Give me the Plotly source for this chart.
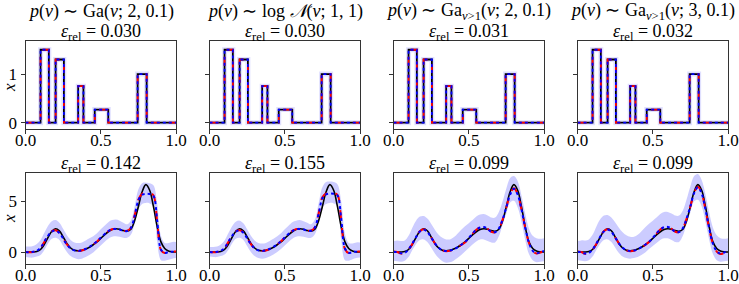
import plotly.graph_objects as go

# ---------------- data ----------------
col_titles = ["<i>p</i>(<i>ν</i>) ∼ Ga(<i>ν</i>; 2, 0.1)",
              "<i>p</i>(<i>ν</i>) ∼ log <i>𝒩</i>(<i>ν</i>; 1, 1)",
              "<i>p</i>(<i>ν</i>) ∼ Ga<sub><i>ν</i>>1</sub>(<i>ν</i>; 2, 0.1)",
              "<i>p</i>(<i>ν</i>) ∼ Ga<sub><i>ν</i>>1</sub>(<i>ν</i>; 3, 0.1)"]
err_top = ["0.030", "0.030", "0.031", "0.032"]
err_bot = ["0.142", "0.155", "0.099", "0.099"]

# top row: piecewise-constant signal (step edges and levels)
step_edges = [0.0, 0.1, 0.155, 0.2, 0.255, 0.35, 0.385, 0.46, 0.55, 0.745, 0.805, 1.0]
step_levels = [0.0, 1.5, 0.0, 1.3, 0.0, 0.75, 0.0, 0.27, 0.0, 1.0, 0.0, 0.0]

# bottom row: smooth signal sampled on a grid
x_grid = [0.000, 0.025, 0.050, 0.075, 0.100, 0.125, 0.150, 0.175, 0.200, 0.225,
          0.250, 0.275, 0.300, 0.325, 0.350, 0.375, 0.400, 0.425, 0.450, 0.475,
          0.500, 0.525, 0.550, 0.575, 0.600, 0.625, 0.650, 0.675, 0.700, 0.725,
          0.750, 0.775, 0.800, 0.825, 0.850, 0.875, 0.900, 0.925, 0.950, 0.975, 1.000]

truth_smooth = [0.00, 0.00, 0.00, 0.05, 0.25, 0.75, 1.45, 2.05, 2.30, 2.10,
                1.50, 0.85, 0.40, 0.18, 0.13, 0.18, 0.30, 0.48, 0.72, 1.00,
                1.35, 1.70, 2.00, 2.22, 2.30, 2.25, 2.12, 2.05, 2.25, 3.10,
                4.50, 5.95, 6.65, 6.10, 4.50, 2.50, 1.00, 0.35, 0.10, 0.02, 0.00]

red_1 = [0.00, -0.02, 0.00, 0.10, 0.40, 1.00, 1.65, 2.05, 2.15, 1.90,
         1.35, 0.75, 0.35, 0.15, 0.10, 0.15, 0.30, 0.50, 0.75, 1.05,
         1.40, 1.75, 2.05, 2.25, 2.30, 2.25, 2.12, 2.10, 2.40, 3.60,
         5.20, 5.75, 5.85, 5.80, 5.60, 3.00, 0.20, -0.10, 0.00, 0.05, 0.05]
blue_1 = [0.00, -0.03, 0.02, 0.12, 0.42, 1.02, 1.62, 2.02, 2.12, 1.88,
          1.33, 0.74, 0.36, 0.16, 0.11, 0.16, 0.31, 0.51, 0.76, 1.06,
          1.41, 1.76, 2.06, 2.24, 2.28, 2.23, 2.10, 2.08, 2.38, 3.55,
          5.10, 5.65, 5.75, 5.72, 5.55, 3.10, 0.25, -0.08, 0.00, 0.04, 0.05]
up_1 = [0.55, 0.55, 0.60, 0.80, 1.20, 1.90, 2.60, 3.05, 3.15, 2.90,
        2.30, 1.65, 1.20, 0.95, 0.90, 0.95, 1.15, 1.35, 1.55, 1.85,
        2.25, 2.60, 2.95, 3.15, 3.20, 3.10, 2.90, 2.75, 3.10, 4.50,
        6.20, 6.80, 6.85, 6.80, 6.60, 4.80, 1.60, 0.90, 0.90, 1.00, 1.00]
lo_1 = [-0.50, -0.55, -0.55, -0.45, -0.30, 0.20, 0.85, 1.30, 1.40, 1.20,
        0.60, 0.00, -0.40, -0.60, -0.70, -0.65, -0.50, -0.30, -0.05, 0.30,
        0.65, 1.00, 1.30, 1.50, 1.55, 1.50, 1.40, 1.40, 1.70, 2.80,
        4.20, 4.75, 4.85, 4.80, 4.50, 1.00, -0.80, -0.85, -0.75, -0.65, -0.60]

red_2 = [0.00, -0.02, 0.00, 0.10, 0.38, 0.98, 1.62, 2.05, 2.15, 1.92,
         1.38, 0.78, 0.36, 0.15, 0.10, 0.15, 0.30, 0.50, 0.76, 1.06,
         1.42, 1.78, 2.08, 2.26, 2.30, 2.25, 2.14, 2.12, 2.45, 3.80,
         5.40, 5.80, 5.85, 5.82, 5.65, 3.20, 0.30, -0.10, 0.00, 0.05, 0.05]
blue_2 = [0.00, -0.03, 0.02, 0.12, 0.40, 1.00, 1.60, 2.02, 2.12, 1.90,
          1.36, 0.76, 0.37, 0.16, 0.11, 0.16, 0.31, 0.51, 0.77, 1.07,
          1.43, 1.79, 2.07, 2.25, 2.28, 2.23, 2.12, 2.10, 2.42, 3.75,
          5.30, 5.70, 5.78, 5.75, 5.60, 3.30, 0.35, -0.08, 0.00, 0.04, 0.05]
up_2 = [0.50, 0.50, 0.55, 0.75, 1.15, 1.85, 2.55, 3.00, 3.10, 2.85,
        2.25, 1.60, 1.15, 0.90, 0.85, 0.90, 1.10, 1.30, 1.55, 1.85,
        2.25, 2.60, 2.95, 3.10, 3.15, 3.05, 2.90, 2.75, 3.20, 4.80,
        6.40, 6.90, 6.95, 6.90, 6.70, 5.00, 1.80, 0.90, 0.85, 0.95, 0.95]
lo_2 = [-0.45, -0.50, -0.50, -0.40, -0.25, 0.20, 0.85, 1.30, 1.40, 1.20,
        0.60, 0.00, -0.40, -0.60, -0.65, -0.60, -0.45, -0.25, 0.00, 0.30,
        0.65, 1.00, 1.30, 1.50, 1.55, 1.50, 1.40, 1.40, 1.75, 2.90,
        4.40, 4.75, 4.85, 4.80, 4.55, 1.20, -0.80, -0.85, -0.70, -0.60, -0.55]

red_3 = [0.05, 0.00, -0.15, -0.10, 0.25, 0.80, 1.50, 2.05, 2.25, 2.00,
         1.45, 0.85, 0.40, 0.15, 0.08, 0.12, 0.25, 0.45, 0.70, 0.95,
         1.35, 1.80, 2.20, 2.45, 2.50, 2.30, 2.00, 1.95, 2.30, 3.20,
         4.40, 5.70, 6.30, 5.70, 4.20, 2.40, 0.90, 0.10, -0.15, -0.05, 0.10]
blue_3 = [0.03, -0.02, -0.12, -0.08, 0.27, 0.82, 1.48, 2.02, 2.22, 1.98,
          1.44, 0.86, 0.42, 0.17, 0.10, 0.14, 0.27, 0.47, 0.72, 0.98,
          1.38, 1.82, 2.20, 2.42, 2.47, 2.28, 2.00, 1.96, 2.32, 3.22,
          4.42, 5.68, 6.25, 5.68, 4.22, 2.42, 0.92, 0.12, -0.12, -0.02, 0.12]
up_3 = [1.10, 1.15, 1.10, 1.15, 1.60, 2.40, 3.10, 3.50, 3.55, 3.30,
        2.80, 2.20, 1.70, 1.40, 1.25, 1.25, 1.45, 1.80, 2.20, 2.55,
        2.85, 3.15, 3.50, 3.70, 3.75, 3.60, 3.40, 3.40, 3.95, 5.00,
        6.30, 7.30, 7.50, 7.00, 5.60, 3.80, 2.30, 1.60, 1.35, 1.30, 1.35]
lo_3 = [-0.85, -0.90, -0.95, -0.85, -0.50, 0.20, 0.80, 1.20, 1.25, 1.00,
        0.45, -0.15, -0.60, -0.90, -1.05, -1.00, -0.85, -0.60, -0.30, 0.05,
        0.40, 0.75, 1.05, 1.25, 1.25, 1.10, 0.95, 0.95, 1.55, 2.70,
        3.80, 4.90, 5.05, 4.40, 3.00, 1.20, -0.20, -0.80, -1.00, -0.95, -0.90]

red_4 = [0.05, 0.00, -0.18, -0.12, 0.22, 0.80, 1.50, 2.05, 2.25, 2.00,
         1.45, 0.85, 0.40, 0.16, 0.08, 0.12, 0.26, 0.46, 0.70, 0.98,
         1.38, 1.82, 2.22, 2.48, 2.52, 2.30, 2.00, 1.98, 2.35, 3.30,
         4.50, 5.85, 6.45, 5.80, 4.20, 2.30, 0.80, 0.05, -0.20, -0.08, 0.10]
blue_4 = [0.03, -0.02, -0.15, -0.10, 0.25, 0.82, 1.48, 2.02, 2.22, 1.98,
          1.44, 0.86, 0.42, 0.18, 0.10, 0.14, 0.28, 0.48, 0.72, 1.00,
          1.40, 1.84, 2.22, 2.45, 2.48, 2.28, 2.00, 1.98, 2.36, 3.32,
          4.52, 5.82, 6.40, 5.78, 4.22, 2.32, 0.82, 0.08, -0.16, -0.05, 0.12]
up_4 = [1.10, 1.15, 1.15, 1.25, 1.70, 2.50, 3.20, 3.60, 3.65, 3.40,
        2.95, 2.40, 1.95, 1.65, 1.50, 1.50, 1.70, 2.05, 2.45, 2.80,
        3.10, 3.40, 3.75, 3.95, 3.95, 3.80, 3.60, 3.60, 4.10, 5.20,
        6.50, 7.50, 7.70, 7.10, 5.70, 3.90, 2.40, 1.65, 1.35, 1.30, 1.35]
lo_4 = [-0.80, -0.85, -0.90, -0.80, -0.45, 0.20, 0.80, 1.20, 1.25, 1.00,
        0.45, -0.10, -0.45, -0.60, -0.65, -0.60, -0.50, -0.30, -0.05, 0.30,
        0.60, 0.90, 1.20, 1.35, 1.35, 1.20, 1.00, 1.00, 1.60, 2.80,
        3.90, 5.00, 5.15, 4.50, 3.00, 1.20, -0.20, -0.80, -0.95, -0.90, -0.85]

red_bot = [red_1, red_2, red_3, red_4]
blue_bot = [blue_1, blue_2, blue_3, blue_4]
up_bot = [up_1, up_2, up_3, up_4]
lo_bot = [lo_1, lo_2, lo_3, lo_4]

x_ticks = [0.0, 0.5, 1.0]
x_ticklabels = ["0.0", "0.5", "1.0"]
y_ticks_top = [0, 1]
y_ticks_bot = [0, 5]

# ---------------- layout ----------------
W, H = 739, 284
col_left = [25.5, 209.5, 393.5, 577.5]
col_w = 150.5
row_px = [(41, 129), (173, 264)]
ylabel_px = [88, 219]
y_ranges = [[-0.13, 1.68], [-1.18, 7.8]]

FONT = "Liberation Serif"
fig = go.Figure()

band_fill = "rgba(0,0,255,0.2)"
halo = "rgba(0,0,255,0.12)"
axis_line = "#333333"

def axname(r, c):
    idx = r * 4 + c + 1
    return ("x" if idx == 1 else f"x{idx}"), ("y" if idx == 1 else f"y{idx}")

for r in range(2):
    for c in range(4):
        xa, ya = axname(r, c)
        if r == 0:
            fig.add_trace(go.Scatter(x=step_edges, y=step_levels, mode="lines",
                                     line=dict(color=halo, width=5, shape="hv"),
                                     xaxis=xa, yaxis=ya, showlegend=False, hoverinfo="skip"))
            fig.add_trace(go.Scatter(x=step_edges, y=step_levels, mode="lines",
                                     line=dict(color="black", width=1.8, shape="hv"),
                                     xaxis=xa, yaxis=ya, showlegend=False))
            fig.add_trace(go.Scatter(x=step_edges, y=step_levels, mode="lines",
                                     line=dict(color="red", width=1.8, dash="dash", shape="hv"),
                                     xaxis=xa, yaxis=ya, showlegend=False))
            fig.add_trace(go.Scatter(x=step_edges, y=step_levels, mode="lines",
                                     line=dict(color="blue", width=1.8, dash="dot", shape="hv"),
                                     xaxis=xa, yaxis=ya, showlegend=False))
        else:
            fig.add_trace(go.Scatter(x=x_grid, y=lo_bot[c], mode="lines",
                                     line=dict(width=0, shape="spline"),
                                     xaxis=xa, yaxis=ya, showlegend=False, hoverinfo="skip"))
            fig.add_trace(go.Scatter(x=x_grid, y=up_bot[c], mode="lines", fill="tonexty",
                                     fillcolor=band_fill, line=dict(width=0, shape="spline"),
                                     xaxis=xa, yaxis=ya, showlegend=False, hoverinfo="skip"))
            fig.add_trace(go.Scatter(x=x_grid, y=truth_smooth, mode="lines",
                                     line=dict(color="black", width=1.6, shape="spline"),
                                     xaxis=xa, yaxis=ya, showlegend=False))
            fig.add_trace(go.Scatter(x=x_grid, y=red_bot[c], mode="lines",
                                     line=dict(color="red", width=2, dash="dash", shape="spline"),
                                     xaxis=xa, yaxis=ya, showlegend=False))
            fig.add_trace(go.Scatter(x=x_grid, y=blue_bot[c], mode="lines",
                                     line=dict(color="blue", width=2, dash="dot", shape="spline"),
                                     xaxis=xa, yaxis=ya, showlegend=False))

        x0 = col_left[c] / W
        x1 = (col_left[c] + col_w) / W
        y0 = 1 - row_px[r][1] / H
        y1 = 1 - row_px[r][0] / H
        common = dict(showline=True, mirror=True, linecolor=axis_line, linewidth=1,
                      ticks="outside", ticklen=4, tickwidth=1, tickcolor=axis_line,
                      showgrid=False, zeroline=False, automargin=False,
                      tickfont=dict(family=FONT, size=17, color="black"))
        xkey = "xaxis" if xa == "x" else "xaxis" + xa[1:]
        ykey = "yaxis" if ya == "y" else "yaxis" + ya[1:]
        fig.update_layout({
            xkey: dict(domain=[x0, x1], anchor=ya, range=[0, 1],
                       tickvals=x_ticks, ticktext=x_ticklabels,
                       ticklabelstandoff=-8, **common),
            ykey: dict(domain=[y0, y1], anchor=xa, range=y_ranges[r],
                       tickvals=(y_ticks_top if r == 0 else y_ticks_bot),
                       showticklabels=(c == 0), **common),
        })

ann = []
for c in range(4):
    xc = (col_left[c] + col_w / 2) / W
    ann.append(dict(text=col_titles[c], x=xc, y=1 - 12 / H, xref="paper", yref="paper",
                    showarrow=False, font=dict(family=FONT, size=18, color="black"),
                    xanchor="center", yanchor="middle"))
    ann.append(dict(text=f"<i>ε</i><sub>rel</sub> = {err_top[c]}", x=xc, y=1 - 33 / H,
                    xref="paper", yref="paper", showarrow=False,
                    font=dict(family=FONT, size=18, color="black"),
                    xanchor="center", yanchor="middle"))
    ann.append(dict(text=f"<i>ε</i><sub>rel</sub> = {err_bot[c]}", x=xc, y=1 - 164 / H,
                    xref="paper", yref="paper", showarrow=False,
                    font=dict(family=FONT, size=18, color="black"),
                    xanchor="center", yanchor="middle"))
for r in range(2):
    ann.append(dict(text="<i>x</i>", x=9 / W, y=1 - ylabel_px[r] / H, xref="paper", yref="paper",
                    showarrow=False, textangle=-90,
                    font=dict(family=FONT, size=17, color="black"),
                    xanchor="center", yanchor="middle"))

fig.update_layout(width=W, height=H,
                  margin=dict(l=0, r=0, t=0, b=0, pad=0, autoexpand=False),
                  paper_bgcolor="white", plot_bgcolor="white", hovermode=False,
                  annotations=ann)

fig.write_html("out.html", config={"displayModeBar": False},
               post_script="document.body.style.margin='0px';document.body.style.padding='0px';")
